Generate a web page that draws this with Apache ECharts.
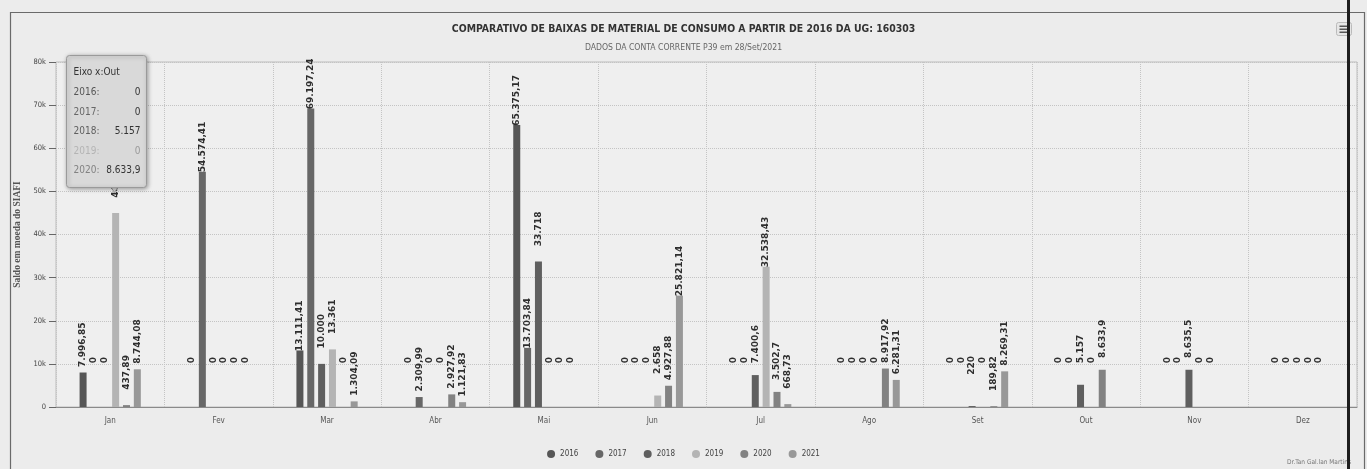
<!DOCTYPE html>
<html>
<head>
<meta charset="utf-8">
<script src="https://cdn.jsdelivr.net/npm/echarts@6/dist/echarts.min.js"></script>
<style>
html,body{margin:0;padding:0;background:#e4e4e4;}
#c{width:1367px;height:469px;}
</style>
</head>
<body>
<div id="c"></div>
<script>
const months = ['Jan','Fev','Mar','Abr','Mai','Jun','Jul','Ago','Set','Out','Nov','Dez'];
const years = ['2016','2017','2018','2019','2020','2021'];
const s2016 = [7996.85, 0, 13111.41, 0, 65375.17, 0, 0, 0, 0, 0, 0, 0];
const s2017 = [0, 54574.41, 69197.24, 2309.99, 13703.84, 0, 0, 0, 0, 0, 0, 0];
const s2018 = [0, 0, 10000, 0, 33718, 0, 7400.6, 0, 220, 5157, 8635.5, 0];
const s2019 = [44980, 0, 13361, 0, 0, 2658, 32538.43, 0, 0, 0, 0, 0];
const s2020 = [437.89, 0, 0, 2927.92, 0, 4927.88, 3502.7, 8917.92, 189.82, 8633.9, 0, 0];
const s2021 = [8744.08, 0, 1304.09, 1121.83, 0, 25821.14, 668.73, 6281.31, 8269.31, null, null, null];
const yTicks = ['0','10k','20k','30k','40k','50k','60k','70k','80k'];
const tipTitle = 'Eixo x:Out';
const tipRows = [['2016:', '0'], ['2017:', '0'], ['2018:', '5.157'], ['2019:', '0'], ['2020:', '8.633,9']];

const seriesData = [s2016, s2017, s2018, s2019, s2020, s2021];
const colors = ['#565656', '#676767', '#5f5f5f', '#b4b4b4', '#828282', '#989898'];

function fmt(v) {
  if (v == null) return '';
  const s = String(v);
  const parts = s.split('.');
  const ip = parts[0].replace(/\B(?=(\d{3})+(?!\d))/g, '.');
  return parts[1] ? ip + ',' + parts[1] : ip;
}

const chart = echarts.init(document.getElementById('c'));
const FONT = 'DejaVu Sans Condensed, DejaVu Sans, sans-serif';

const series = years.map((y, i) => ({
  name: y,
  type: 'bar',
  data: seriesData[i],
  barWidth: 7,
  barGap: '55%',
  itemStyle: { color: colors[i] },
  label: {
    show: true,
    position: 'top',
    distance: 50,
    rotate: 90,
    align: 'right',
    verticalAlign: 'middle',
    fontSize: 9,
    fontWeight: 'bold',
    fontFamily: 'DejaVu Sans, sans-serif',
    color: '#2e2e2e',
    formatter: p => fmt(p.value)
  },
  z: 2
}));

const TZ = 200;
const tipChildren = [
  { type: 'polygon', shape: { points: [[44, 131], [52, 131], [48, 137]] }, style: { fill: '#d9d9d9', stroke: '#9a9a9a' }, z: TZ },
  { type: 'rect', shape: { x: 0, y: 0, width: 80, height: 132, r: 3 },
    style: { fill: '#d9d9d9', stroke: '#9a9a9a', lineWidth: 1, shadowBlur: 4, shadowColor: 'rgba(0,0,0,0.35)', shadowOffsetX: 1, shadowOffsetY: 1 }, z: TZ },
  { type: 'text', x: 7, y: 17, style: { text: tipTitle, font: '10px ' + FONT, fill: '#333', verticalAlign: 'middle' }, z: TZ + 1 }
];
tipRows.forEach((r, i) => {
  const yy = 37 + i * 19.5;
  tipChildren.push({ type: 'text', x: 7, y: yy, style: { text: r[0], font: '10px ' + FONT, fill: colors[i], verticalAlign: 'middle' }, z: TZ + 1 });
  tipChildren.push({ type: 'text', x: 74, y: yy, style: { text: r[1], font: '10px ' + FONT, fill: i === 3 ? '#999' : '#333', align: 'right', verticalAlign: 'middle' }, z: TZ + 1 });
});

chart.setOption({
  backgroundColor: '#ececec',
  animation: false,
  color: colors,
  title: [{
    text: 'COMPARATIVO DE BAIXAS DE MATERIAL DE CONSUMO A PARTIR DE 2016 DA UG: 160303',
    left: 'center', top: 19,
    textStyle: { fontSize: 10.4, fontWeight: 'bold', color: '#333', fontFamily: FONT }
  }, {
    text: 'DADOS DA CONTA CORRENTE P39 em 28/Set/2021',
    left: 'center', top: 38,
    textStyle: { fontSize: 8.6, fontWeight: 'normal', color: '#666', fontFamily: FONT }
  }],
  legend: {
    data: years,
    left: 'center', top: 445,
    icon: 'circle', itemWidth: 8, itemHeight: 8, itemGap: 17,
    textStyle: { fontSize: 8, color: '#444', fontFamily: FONT }
  },
  grid: { left: 56, right: 10, top: 62, bottom: 62, show: true, borderColor: '#bdbdbd', backgroundColor: '#efefef' },
  xAxis: {
    type: 'category',
    data: months,
    axisLine: { lineStyle: { color: '#8a8a8a' } },
    axisTick: { show: false },
    axisLabel: { fontSize: 8, color: '#555', fontFamily: FONT, margin: 10 },
    splitLine: { show: true, interval: 0, lineStyle: { color: '#c4c4c4', type: 'dotted' } }
  },
  yAxis: {
    type: 'value',
    min: 0, max: 80000, interval: 10000,
    name: 'Saldo em moeda do SIAFI',
    nameLocation: 'middle', nameGap: 29,
    nameTextStyle: { fontSize: 9.5, fontWeight: 'bold', color: '#555', fontFamily: 'Liberation Serif, serif' },
    axisLine: { show: false },
    axisTick: { show: true, length: 7, lineStyle: { color: '#666' } },
    axisLabel: { fontSize: 7.5, color: '#444', fontFamily: FONT, margin: 10, formatter: (v, i) => yTicks[i] },
    splitLine: { lineStyle: { color: '#c4c4c4', type: 'dotted' } }
  },
  series: series,
  graphic: [
    { type: 'rect', left: 8, top: 10, shape: { width: 1354, height: 470 }, style: { fill: 'none', stroke: '#6a6a6a', lineWidth: 1.2 }, z: 0, silent: true },
    { type: 'group', left: 66, top: 55, children: tipChildren, z: TZ },
    { type: 'group', left: 1336, top: 22, z: 50, children: [
      { type: 'rect', shape: { x: 0, y: 0, width: 15, height: 13, r: 2 }, style: { fill: '#e6e6e6', stroke: '#bbb' }, z: 50 },
      { type: 'rect', shape: { x: 3, y: 3, width: 9, height: 1.5 }, style: { fill: '#555' }, z: 51 },
      { type: 'rect', shape: { x: 3, y: 6, width: 9, height: 1.5 }, style: { fill: '#555' }, z: 51 },
      { type: 'rect', shape: { x: 3, y: 9, width: 9, height: 1.5 }, style: { fill: '#555' }, z: 51 }
    ]},
    { type: 'rect', left: 1347, top: 0, shape: { width: 3, height: 469 }, style: { fill: '#1e1e1e' }, z: 60 },
    { type: 'text', right: 16, top: 459, style: { text: 'Dr.Tan Gal.lan Martins', font: '6.5px ' + FONT, fill: '#777' }, z: 55 }
  ]
});
</script>
</body>
</html>
